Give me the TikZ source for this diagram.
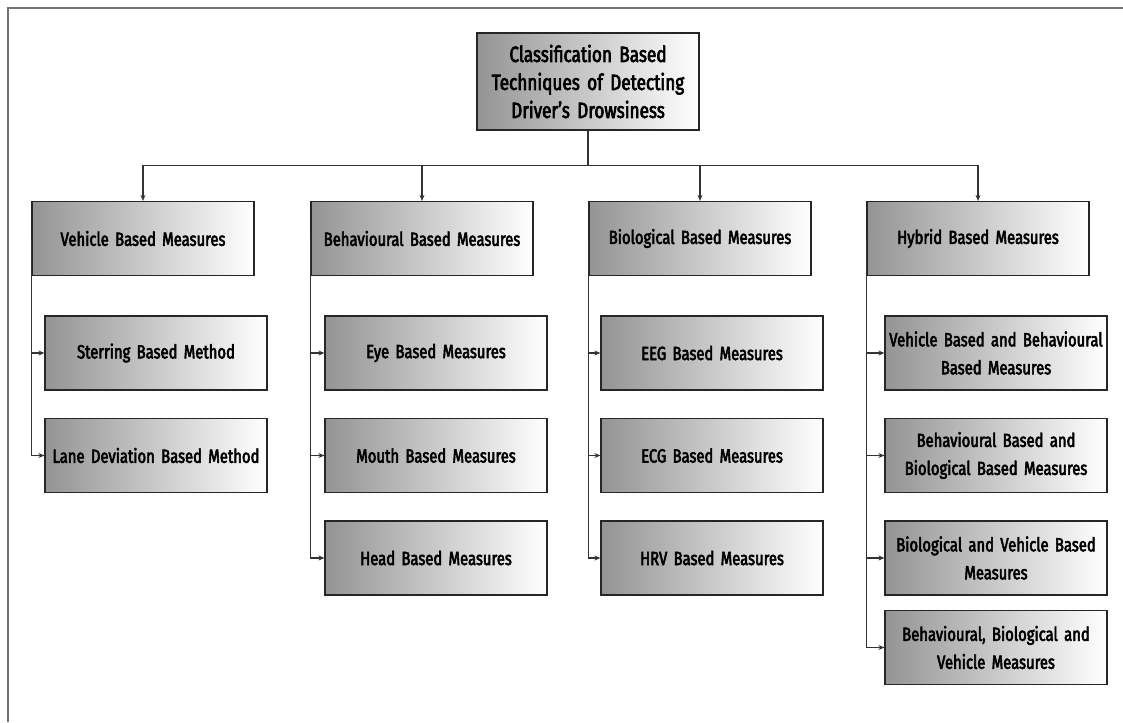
\documentclass[tikz,border=0pt]{standalone}
\usepackage{fontspec}
\setmainfont{Fira Sans}[FakeStretch=0.78, FakeBold=3]
\usepackage{tikz}
\usetikzlibrary{arrows.meta, positioning}

\tikzset{
  mbox/.style={draw=black!85, line width=1.2pt, left color=black!42, right color=white,
    minimum width=222pt, minimum height=74pt, text width=216pt, align=center,
    inner sep=2pt, font=\fontsize{19}{28}\selectfont},
  rootbox/.style={mbox, minimum height=97pt, font=\fontsize{22}{28}\selectfont},
  link/.style={draw=black!80, line width=1.1pt, -{Stealth[length=6pt, width=5pt]}},
  plainlink/.style={draw=black!80, line width=1.1pt},
}

\begin{document}
\begin{tikzpicture}[x=1pt, y=-1pt]
  \useasboundingbox (0,0) rectangle (1123,722);
  \draw[black!55, line width=1.5pt] (8,722) -- (8,8) -- (1123,8);

  \node[rootbox] at (588,81.5) (root) {Classification Based\\Techniques of Detecting\\Driver’s Drowsiness};

  % main groups
  \node[mbox] at (143,238.5) (veh) {Vehicle Based Measures};
  \node[mbox] at (422,238.5) (beh) {Behavioural Based Measures};
  \node[mbox] at (700,238.5) (bio) {Biological Based Measures};
  \node[mbox] at (978,238.5) (hyb) {Hybrid Based Measures};

  % vehicle
  \node[mbox] at (156,353) (veh1) {Sterring Based Method};
  \node[mbox] at (156,455.5) (veh2) {Lane Deviation Based Method};
  % behavioural
  \node[mbox] at (436,353) (beh1) {Eye Based Measures};
  \node[mbox] at (436,455.5) (beh2) {Mouth Based Measures};
  \node[mbox] at (436,558) (beh3) {Head Based Measures};
  % biological
  \node[mbox] at (712,353) (bio1) {EEG Based Measures};
  \node[mbox] at (712,455.5) (bio2) {ECG Based Measures};
  \node[mbox] at (712,558) (bio3) {HRV Based Measures};
  % hybrid
  \node[mbox] at (996,353) (hyb1) {Vehicle Based and Behavioural\\Based Measures};
  \node[mbox] at (996,455.5) (hyb2) {Behavioural Based and\\Biological Based Measures};
  \node[mbox] at (996,558) (hyb3) {Biological and Vehicle Based\\Measures};
  \node[mbox] at (996,647.5) (hyb4) {Behavioural, Biological and\\Vehicle Measures};

  \draw[plainlink] (root.south) -- ++(0,35) coordinate (bus);
  \foreach \g in {veh, beh, bio, hyb}
    \draw[link] (bus) -| (\g.north);

  \foreach \c in {veh1, veh2}
    \draw[link] (veh.west) |- (\c.west);
  \foreach \c in {beh1, beh2, beh3}
    \draw[link] (beh.west) |- (\c.west);
  \foreach \c in {bio1, bio2, bio3}
    \draw[link] (bio.west) |- (\c.west);
  \foreach \c in {hyb1, hyb2, hyb3, hyb4}
    \draw[link] (hyb.west) |- (\c.west);
\end{tikzpicture}
\end{document}
